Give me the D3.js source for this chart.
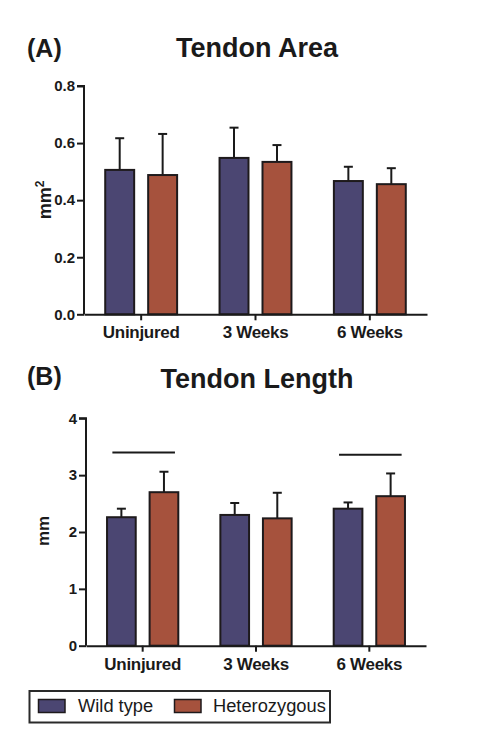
<!DOCTYPE html>
<html>
<head>
<meta charset="utf-8">
<script src="https://cdn.jsdelivr.net/npm/d3@7"></script>
<style>
  html, body { margin: 0; padding: 0; background: #fff; }
  svg { display: block; }
  text { font-family: "Liberation Sans", Arial, sans-serif; fill: #1a1a1a; }
</style>
</head>
<body>
<svg id="chart" width="493" height="746"></svg>
<script>
// ---- data ----
const categories = ["Uninjured", "3 Weeks", "6 Weeks"];
const seriesNames = ["Wild type", "Heterozygous"];
const seriesColors = ["#4b4672", "#a6523d"];

const areaWT = [0.506, 0.548, 0.467];
const areaWTErr = [0.111, 0.106, 0.050];
const areaHet = [0.488, 0.534, 0.456];
const areaHetErr = [0.144, 0.059, 0.056];

const lengthWT = [2.26, 2.30, 2.41];
const lengthWTErr = [0.15, 0.21, 0.11];
const lengthHet = [2.70, 2.24, 2.63];
const lengthHetErr = [0.36, 0.45, 0.40];

const areaTicks = [0.0, 0.2, 0.4, 0.6, 0.8];
const lengthTicks = [0, 1, 2, 3, 4];

const sigCategories = ["Uninjured", "6 Weeks"];
const sigLevels = [3.40, 3.36];

const svg = d3.select("#chart");

function panel(opts) {
  const g = svg.append("g");
  const x0 = d3.scaleBand().domain(categories).range([opts.left, opts.right]).padding(0);
  const x1 = d3.scaleBand().domain(seriesNames).range([0, x0.bandwidth()])
    .paddingInner(0.326).paddingOuter(0.494);
  const y = d3.scaleLinear().domain(opts.domain).range([opts.bottom, opts.top]);

  const rows = [];
  categories.forEach((c, i) => {
    rows.push({ c, s: seriesNames[0], v: opts.wt[i], e: opts.wtErr[i], color: seriesColors[0] });
    rows.push({ c, s: seriesNames[1], v: opts.het[i], e: opts.hetErr[i], color: seriesColors[1] });
  });

  // error bars (upper only)
  const eb = g.append("g").attr("stroke", "#1a1a1a").attr("stroke-width", 2);
  rows.forEach(d => {
    const cx = x0(d.c) + x1(d.s) + x1.bandwidth() / 2;
    eb.append("line").attr("x1", cx).attr("x2", cx).attr("y1", y(d.v)).attr("y2", y(d.v + d.e));
    eb.append("line").attr("x1", cx - 4.5).attr("x2", cx + 4.5).attr("y1", y(d.v + d.e)).attr("y2", y(d.v + d.e));
  });

  // bars
  g.append("g").selectAll("rect").data(rows).join("rect")
    .attr("x", d => x0(d.c) + x1(d.s))
    .attr("y", d => y(d.v))
    .attr("width", x1.bandwidth())
    .attr("height", d => y(0) - y(d.v))
    .attr("fill", d => d.color)
    .attr("stroke", "#1e1a1c")
    .attr("stroke-width", 2);

  // y axis
  const ya = g.append("g").attr("transform", `translate(${opts.left},0)`)
    .call(d3.axisLeft(y).tickValues(opts.ticks).tickFormat(opts.fmt).tickSize(7).tickPadding(2));
  ya.select(".domain").attr("stroke", "#1a1a1a").attr("stroke-width", 2).attr("d", `M-7,${y(opts.domain[1])}H0V${y(0)}`);
  ya.selectAll(".tick line").attr("stroke", "#1a1a1a").attr("stroke-width", 2);
  ya.selectAll(".tick text").attr("font-size", 15).attr("font-weight", "bold").attr("fill", "#1a1a1a")
    .attr("font-family", "'Liberation Sans', Arial, sans-serif");

  // x axis
  const xa = g.append("g").attr("transform", `translate(0,${y(0)})`)
    .call(d3.axisBottom(x0).tickSize(6).tickPadding(6).tickSizeOuter(0));
  xa.select(".domain").attr("stroke", "#1a1a1a").attr("stroke-width", 2);
  xa.selectAll(".tick line").attr("stroke", "#1a1a1a").attr("stroke-width", 2);
  xa.selectAll(".tick text").attr("font-size", 17).attr("font-weight", "bold").attr("fill", "#1a1a1a")
    .attr("font-family", "'Liberation Sans', Arial, sans-serif").attr("letter-spacing", -0.3);

  // panel letter + title
  svg.append("text").attr("x", 27).attr("y", opts.letterY).attr("font-size", 25)
    .attr("font-weight", "bold").text(opts.letter);
  svg.append("text").attr("x", 257).attr("y", opts.titleY).attr("font-size", 27)
    .attr("font-weight", "bold").attr("text-anchor", "middle").text(opts.title);

  return { g, x0, x1, y };
}

const A = panel({
  left: 84, right: 427, top: 86, bottom: 314.3, domain: [0, 0.8],
  ticks: areaTicks, fmt: d3.format(".1f"),
  wt: areaWT, wtErr: areaWTErr, het: areaHet, hetErr: areaHetErr,
  letter: "(A)", letterY: 57, title: "Tendon Area", titleY: 57
});

const B = panel({
  left: 86, right: 426, top: 418.3, bottom: 645.7, domain: [0, 4],
  ticks: lengthTicks, fmt: d3.format("d"),
  wt: lengthWT, wtErr: lengthWTErr, het: lengthHet, hetErr: lengthHetErr,
  letter: "(B)", letterY: 385, title: "Tendon Length", titleY: 388
});

// y axis labels
const yla = svg.append("text").attr("transform", "translate(51,200) rotate(-90)")
  .attr("text-anchor", "middle").attr("font-size", 18).attr("font-weight", "bold");
yla.append("tspan").text("mm");
yla.append("tspan").attr("dy", -7).attr("font-size", 12).text("2");

svg.append("text").attr("transform", "translate(49,531) rotate(-90)")
  .attr("text-anchor", "middle").attr("font-size", 17).attr("font-weight", "bold").text("mm");

// significance lines in panel B
sigCategories.forEach((c, i) => {
  const xl = B.x0(c) + B.x1(seriesNames[0]) + B.x1.bandwidth() / 2 - 9;
  const xr = B.x0(c) + B.x1(seriesNames[1]) + B.x1.bandwidth() / 2 + 11;
  svg.append("line").attr("x1", xl).attr("x2", xr)
    .attr("y1", B.y(sigLevels[i])).attr("y2", B.y(sigLevels[i]))
    .attr("stroke", "#1a1a1a").attr("stroke-width", 2);
});

// legend
const lg = svg.append("g");
lg.append("rect").attr("x", 29.5).attr("y", 691).attr("width", 300.5).attr("height", 31.5)
  .attr("fill", "#fff").attr("stroke", "#2a2a2a").attr("stroke-width", 2);
const legX = [38.5, 174.5];
const legTextX = [78, 213];
seriesNames.forEach((s, i) => {
  lg.append("rect").attr("x", legX[i]).attr("y", 699.5).attr("width", 26.5).attr("height", 13)
    .attr("fill", seriesColors[i]).attr("stroke", "#1e1a1c").attr("stroke-width", 1.5);
  lg.append("text").attr("x", legTextX[i]).attr("y", 711.5).attr("font-size", 18.3).text(s);
});
</script>
</body>
</html>
